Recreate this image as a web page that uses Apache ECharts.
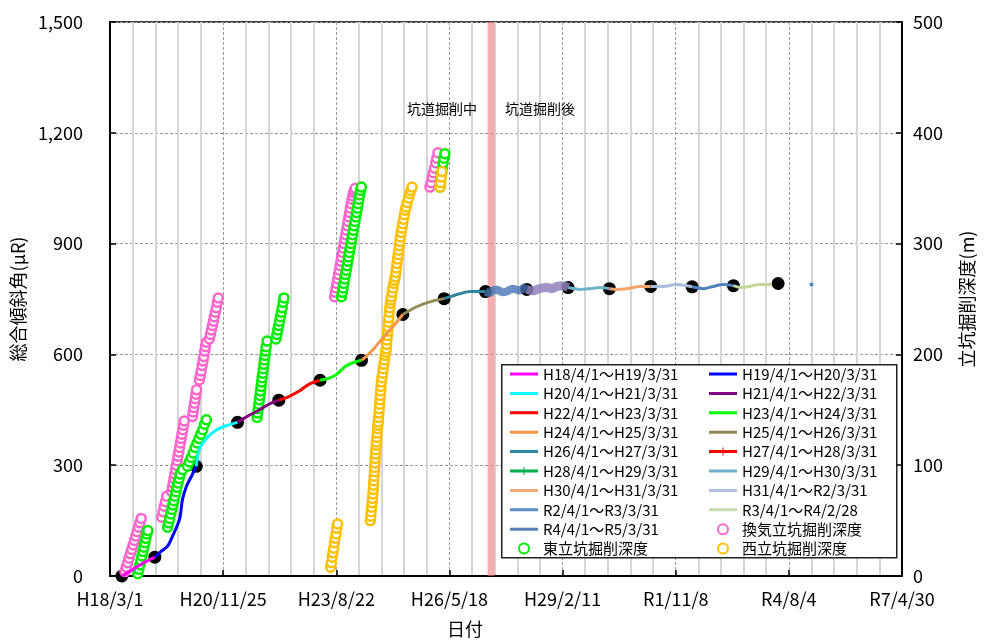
<!DOCTYPE html>
<html><head><meta charset="utf-8">
<script src="https://cdn.jsdelivr.net/npm/echarts@6/dist/echarts.min.js"></script>
<style>html,body{margin:0;padding:0;background:#fff}#c{width:984px;height:643px}</style>
</head><body><div id="c"></div>
<script>
// ---------- data ----------
const xTickLabels = ['H18/3/1','H20/11/25','H23/8/22','H26/5/18','H29/2/11','R1/11/8','R4/8/4','R7/4/30'];
const axisStart = '2006-03-01';
const tunnelBand = ['2015-04-20','2015-06-21'];

const fyNames = ['H18/4/1～H19/3/31','H19/4/1～H20/3/31','H20/4/1～H21/3/31','H21/4/1～H22/3/31','H22/4/1～H23/3/31','H23/4/1～H24/3/31','H24/4/1～H25/3/31','H25/4/1～H26/3/31','H26/4/1～H27/3/31','H27/4/1～H28/3/31','H28/4/1～H29/3/31','H29/4/1～H30/3/31','H30/4/1～H31/3/31','H31/4/1～R2/3/31','R2/4/1～R3/3/31','R3/4/1～R4/2/28','R4/4/1～R5/3/31'];

const fyH18 = [['2006-06-14',0],['2006-09-01',14],['2006-12-01',32],['2007-04-01',51]];
const fyH19 = [['2007-04-01',51],['2007-06-01',68],['2007-07-23',81],['2007-09-05',108],['2007-11-06',154],['2007-12-02',208],['2008-01-06',243],['2008-02-19',270],['2008-04-01',297]];
const fyH20 = [['2008-04-01',297],['2008-04-29',343],['2008-06-30',372],['2008-09-26',395],['2008-12-23',407],['2009-04-01',416]];
const fyH21 = [['2009-04-01',416],['2009-06-25',432],['2009-09-21',446],['2010-01-04',465],['2010-04-01',476]];
const fyH22 = [['2010-04-01',476],['2010-06-29',486],['2010-09-25',500],['2010-12-22',519],['2011-04-01',530]];
const fyH23 = [['2011-04-01',530],['2011-06-15',535],['2011-08-25',546],['2011-11-12',568],['2012-01-21',578],['2012-04-01',584]];
const fyH24 = [['2012-04-01',584],['2012-05-14',595],['2012-07-15',614],['2012-10-10',646],['2013-01-06',676],['2013-04-01',708]];
const fyH25 = [['2013-04-01',708],['2013-07-18',727],['2013-11-10',741],['2014-04-01',751]];
const fyH26 = [['2014-04-01',751],['2014-05-31',757],['2014-08-26',765],['2014-11-22',770],['2015-04-01',770]];
const fyH27 = [['2015-04-01',770],['2015-05-10',766],['2015-06-03',773],['2015-07-15',775],['2015-08-30',768],['2015-10-10',771],['2015-11-26',778],['2016-01-27',773],['2016-03-01',779],['2016-04-01',776]];
const fyH28 = [['2016-04-01',776],['2016-05-20',772],['2016-07-03',776],['2016-08-15',780],['2016-09-29',781],['2016-11-10',778],['2016-12-25',784],['2017-02-10',786],['2017-04-01',781]];
const fyH29 = [['2017-04-01',781],['2017-07-15',776],['2017-10-11',778],['2018-01-07',781],['2018-04-01',778]];
const fyH30 = [['2018-04-01',778],['2018-06-05',776],['2018-09-01',778],['2018-12-24',784],['2019-04-01',784]];
const fyH31 = [['2019-04-01',784],['2019-07-23',784],['2019-11-13',789],['2020-04-01',783]];
const fyR2 = [['2020-04-01',783],['2020-07-08',778],['2020-10-04',784],['2020-12-30',789],['2021-04-01',786]];
const fyR3 = [['2021-04-01',786],['2021-06-07',781],['2021-08-17',784],['2021-11-11',789],['2022-02-28',789]];
const fyR4 = [['2023-02-20',789]];

const yearPoints = [['2006-06-14',0],['2007-04-01',51],['2008-04-01',297],['2009-04-01',416],['2010-04-01',476],['2011-04-01',530],['2012-04-01',584],['2013-04-01',708],['2014-04-01',751],['2015-04-01',770],['2016-04-01',776],['2017-04-01',781],['2018-04-01',778],['2019-04-01',784],['2020-04-01',783],['2021-04-01',786],['2022-05-01',792]];

const ventShaft = [['2006-07-11',4],['2006-07-23',8],['2006-08-04',12],['2006-08-16',16],['2006-08-28',20],['2006-09-09',24],['2006-09-21',28],['2006-10-03',32],['2006-10-15',36],['2006-10-27',40],['2006-11-08',44],['2006-11-20',48],['2006-12-02',52],
['2007-06-01',53],['2007-06-12',58],['2007-06-23',63],['2007-07-04',67],['2007-07-15',72],
['2007-08-28',76],['2007-09-04',80],['2007-09-11',84],['2007-09-18',88],['2007-09-25',92],['2007-10-02',96],['2007-10-09',100],['2007-10-16',104],['2007-10-23',108],['2007-10-30',112],['2007-11-06',116],['2007-11-13',120],['2007-11-20',124],['2007-11-27',128],['2007-12-04',132],['2007-12-11',136],['2007-12-18',140],
['2008-02-28',144],['2008-03-05',148],['2008-03-11',152],['2008-03-17',156],['2008-03-23',160],['2008-03-29',164],['2008-04-04',168],
['2008-04-29',177],['2008-05-07',181],['2008-05-15',185],['2008-05-23',190],['2008-05-31',194],['2008-06-07',198],['2008-06-15',203],['2008-06-22',207],['2008-06-30',211],
['2008-07-26',214],['2008-08-04',218],['2008-08-13',222],['2008-08-22',226],['2008-08-31',230],['2008-09-08',234],['2008-09-17',238],['2008-09-26',242],['2008-10-05',247],['2008-10-13',251],
['2011-08-07',252],['2011-08-14',256],['2011-08-21',260],['2011-08-28',264],['2011-09-04',268],['2011-09-11',272],['2011-09-18',276],['2011-09-25',280],['2011-10-02',284],['2011-10-09',288],['2011-10-16',292],['2011-10-23',296],['2011-10-30',300],['2011-11-06',304],['2011-11-13',308],['2011-11-20',312],['2011-11-27',316],['2011-12-04',320],['2011-12-11',324],['2011-12-18',328],['2011-12-25',332],['2012-01-01',336],['2012-01-08',340],['2012-01-15',343],['2012-01-22',346],['2012-01-29',348],['2012-02-05',350],
['2013-11-27',351],['2013-12-07',355],['2013-12-17',360],['2013-12-27',364],['2014-01-06',368],['2014-01-16',373],['2014-01-26',377],['2014-02-05',382]];

const eastShaft = [['2006-11-02',2],['2006-11-11',6],['2006-11-20',10],['2006-11-29',14],['2006-12-08',18],['2006-12-17',22],['2006-12-26',26],['2007-01-03',30],['2007-01-12',34],['2007-01-21',38],['2007-01-29',41],
['2007-07-23',44],['2007-08-01',48],['2007-08-10',52],['2007-08-20',56],['2007-08-29',60],['2007-09-07',64],['2007-09-16',68],['2007-09-26',72],['2007-10-05',76],['2007-10-14',80],['2007-10-23',84],['2007-11-02',88],['2007-11-11',92],['2007-12-02',96],
['2008-01-15',99],['2008-02-01',103],['2008-02-17',107],['2008-03-05',111],['2008-03-22',116],['2008-04-08',120],['2008-04-25',124],['2008-05-12',128],['2008-05-29',132],['2008-06-14',137],['2008-06-30',141],
['2009-09-21',143],['2009-09-26',147],['2009-10-01',151],['2009-10-06',155],['2009-10-11',159],['2009-10-16',163],['2009-10-21',167],['2009-10-26',171],['2009-10-31',175],['2009-11-05',179],['2009-11-10',183],['2009-11-15',187],['2009-11-20',191],['2009-11-25',195],['2009-11-30',199],['2009-12-05',203],['2009-12-10',207],['2009-12-18',212],
['2010-03-07',214],['2010-03-15',218],['2010-03-23',222],['2010-03-31',226],['2010-04-08',230],['2010-04-15',234],['2010-04-23',238],['2010-05-01',242],['2010-05-09',247],['2010-05-16',251],
['2011-10-07',252],['2011-10-14',256],['2011-10-21',260],['2011-10-28',264],['2011-11-04',268],['2011-11-11',272],['2011-11-18',276],['2011-11-25',280],['2011-12-02',284],['2011-12-09',288],['2011-12-16',292],['2011-12-23',296],['2011-12-30',300],['2012-01-06',304],['2012-01-13',308],['2012-01-20',312],['2012-01-27',316],['2012-02-03',320],['2012-02-10',324],['2012-02-17',328],['2012-02-24',332],['2012-03-02',336],['2012-03-09',340],['2012-03-16',344],['2012-03-23',348],['2012-03-31',351],
['2014-02-23',351],['2014-02-28',355],['2014-03-05',360],['2014-03-11',364],['2014-03-17',368],['2014-03-23',373],['2014-03-30',377],['2014-04-08',381]];

const westShaft = [['2011-07-03',8],['2011-07-10',12],['2011-07-16',17],['2011-07-23',21],['2011-07-30',25],['2011-08-06',30],['2011-08-13',34],['2011-08-20',38],['2011-08-26',43],['2011-09-02',47],
['2012-06-18',50],['2012-06-22',54],['2012-06-25',58],['2012-06-29',62],['2012-07-03',66],['2012-07-07',70],['2012-07-10',74],['2012-07-14',78],['2012-07-16',82],['2012-07-19',86],['2012-07-21',90],['2012-07-24',94],['2012-07-26',98],['2012-07-29',102],['2012-07-31',106],['2012-08-03',110],['2012-08-05',114],['2012-08-08',118],['2012-08-10',121],['2012-08-14',125],['2012-08-18',129],['2012-08-21',133],['2012-08-24',136],['2012-08-27',139],['2012-08-30',143],['2012-09-02',147],['2012-09-05',151],['2012-09-08',155],['2012-09-11',159],['2012-09-14',163],['2012-09-17',167],['2012-09-20',171],['2012-09-23',175],['2012-09-29',179],['2012-10-04',183],['2012-10-10',187],['2012-10-15',191],['2012-10-21',195],['2012-10-26',199],['2012-11-01',202],['2012-11-06',205],['2012-11-09',209],['2012-11-12',213],['2012-11-16',217],['2012-11-19',221],['2012-11-22',225],['2012-11-25',229],['2012-11-28',233],['2012-12-02',238],['2012-12-07',242],['2012-12-12',246],['2012-12-16',249],['2012-12-20',252],['2012-12-28',256],['2013-01-04',260],['2013-01-11',264],['2013-01-18',267],['2013-01-24',270],['2013-01-29',274],['2013-02-03',278],['2013-02-08',282],['2013-02-13',286],['2013-02-19',290],['2013-02-24',294],['2013-03-01',298],['2013-03-06',302],['2013-03-11',306],['2013-03-17',310],['2013-03-24',314],['2013-03-31',318],['2013-04-08',322],['2013-04-15',326],['2013-04-22',330],['2013-04-30',333],['2013-05-10',337],['2013-05-21',341],['2013-06-01',345],['2013-06-11',348],['2013-06-22',351],
['2014-02-23',351],['2014-03-01',355],['2014-03-07',360],['2014-03-13',365]];

const shaftNames = ['換気立坑掘削深度','東立坑掘削深度','西立坑掘削深度'];

// ---------- styles ----------
const fyData = [fyH18,fyH19,fyH20,fyH21,fyH22,fyH23,fyH24,fyH25,fyH26,fyH27,fyH28,fyH29,fyH30,fyH31,fyR2,fyR3,fyR4];
const lineColors = ['#ff00ff','#0000ff','#00ffff','#800080','#ff0000','#00ff00','#f79646','#948a54','#31859c','rgba(70,115,180,0.8)','rgba(145,128,190,0.85)','#6fb3cb','#f6a46c','#aabcdc','#4f81bd','#c4d79b','#4f81bd'];
const lineWidths = [3,3,3,3,3,3,3,3,3,8,9,3,3,3,3,3,3];
const legendColors = ['#ff00ff','#0000ff','#00ffff','#800080','#ff0000','#00ff00','#f79646','#948a54','#31859c','#ff0000','#00b050','#6fb0c8','#f8a878','#b4c2e0','#5b8bc8','#c8dcb0','#5880b8'];
const shaftColors = ['#ff66cc','#00ee00','#ffc000'];

const base = Date.parse(axisStart);
const day = s => (Date.parse(s) - base) / 864e5;
const conv = arr => arr.map(p => [day(p[0]), p[1]]);

const FONT = '"Noto Sans CJK JP", "Noto Sans", sans-serif';
const lineIcon = 'path://M0,0L0.01,0L0,0.01Z M0,3.5h28v3h-28z M28,10L27.99,10L28,9.99Z';
const tickIcon = 'path://M0,0L0.01,0L0,0.01Z M0,3.5h28v3h-28z M13.5,1h1v8h-1z M28,10L27.99,10L28,9.99Z';

const series = [];
fyData.forEach((d, i) => {
  const s = {
    name: fyNames[i], type: 'line', yAxisIndex: 0, data: conv(d),
    smooth: 0.3, symbol: 'none', animation: false,
    itemStyle: { color: legendColors[i] },
    lineStyle: { color: lineColors[i], width: lineWidths[i] },
    emphasis: { disabled: true }
  };
  if (d.length === 1) { s.symbol = 'circle'; s.symbolSize = 4; s.showSymbol = true; s.itemStyle = { color: lineColors[i] }; }
  if (i === 0) {
    s.markArea = { silent: true, itemStyle: { color: 'rgba(245,120,120,0.6)' },
      data: [[{ xAxis: day(tunnelBand[0]) }, { xAxis: day(tunnelBand[1]) }]] };
  }
  series.push(s);
});
series.push({ name: '年度', type: 'scatter', yAxisIndex: 0, data: conv(yearPoints), symbol: 'circle', symbolSize: 13,
  itemStyle: { color: '#000', opacity: 1 }, emphasis: { disabled: true } });
[ventShaft, eastShaft, westShaft].forEach((d, i) => {
  series.push({ name: shaftNames[i], type: 'scatter', yAxisIndex: 1, data: conv(d), symbol: 'circle', symbolSize: 9,
    itemStyle: { color: '#fff', borderColor: shaftColors[i], borderWidth: 2.5, opacity: 1 }, emphasis: { disabled: true } });
});

const lineLegendItem = i => ({ name: fyNames[i], icon: (i === 9 || i === 10) ? tickIcon : lineIcon,
  itemStyle: { color: legendColors[i], borderWidth: 0, opacity: 1 } });
const shaftLegendItem = i => ({ name: shaftNames[i], icon: 'emptyCircle', itemStyle: { color: shaftColors[i], borderWidth: 0, opacity: 1 } });
const leftItems = [0,2,4,6,8,10,12,14,16].map(lineLegendItem).concat([shaftLegendItem(1)]);
const rightItems = [1,3,5,7,9,11,13,15].map(lineLegendItem).concat([shaftLegendItem(0), shaftLegendItem(2)]);
const legendCommon = { orient: 'vertical', top: 365, padding: 0, itemWidth: 28, itemHeight: 10, itemGap: 1.4,
  selectedMode: false, textStyle: { fontSize: 15, fontFamily: FONT, color: '#000', lineHeight: 18 } };

const chart = echarts.init(document.getElementById('c'), null, { renderer: 'canvas' });
chart.setOption({
  animation: false,
  backgroundColor: '#fff',
  grid: { left: 110, right: 77, top: 22, bottom: 66, show: true, borderColor: '#000', borderWidth: 1.5, backgroundColor: 'transparent' },
  xAxis: {
    type: 'value', min: 0, max: 7000, interval: 1000,
    name: '日付', nameLocation: 'middle', nameGap: 44,
    nameTextStyle: { fontSize: 18, fontFamily: FONT, color: '#000', padding: [0, 82, 0, 0] },
    axisLine: { lineStyle: { color: '#000', width: 2 } },
    axisTick: { inside: true, length: 6, lineStyle: { color: '#000', width: 1.5 } },
    axisLabel: { margin: 14, fontSize: 18, fontFamily: FONT, color: '#000', showMaxLabel: true, showMinLabel: true,
      formatter: v => xTickLabels[Math.round(v / 1000)] },
    splitLine: { show: true, lineStyle: { color: '#9a9a9a', type: [3, 2], width: 1 } },
    minorTick: { show: false, splitNumber: 5 },
    minorSplitLine: { show: true, lineStyle: { color: '#d6d6d6', width: 2 } }
  },
  yAxis: [{
    type: 'value', min: 0, max: 1500, interval: 300, position: 'left',
    name: '総合傾斜角(μR)', nameLocation: 'middle', nameGap: 78, nameRotate: 90,
    nameTextStyle: { fontSize: 18, fontFamily: FONT, color: '#000' },
    axisLine: { show: true, lineStyle: { color: '#000', width: 2 } },
    axisTick: { show: true, inside: true, length: 6, lineStyle: { color: '#000', width: 1.5 } },
    axisLabel: { margin: 27, fontSize: 18, fontFamily: FONT, color: '#000', formatter: v => v.toLocaleString('en-US') },
    splitLine: { show: true, lineStyle: { color: '#9a9a9a', type: [3, 2], width: 1 } }
  }, {
    type: 'value', min: 0, max: 500, interval: 100, position: 'right',
    name: '立坑掘削深度(m)', nameLocation: 'middle', nameGap: 56, nameRotate: 90,
    nameTextStyle: { fontSize: 18, fontFamily: FONT, color: '#000' },
    axisLine: { show: true, lineStyle: { color: '#000', width: 2 } },
    axisTick: { show: true, inside: true, length: 6, lineStyle: { color: '#000', width: 1.5 } },
    axisLabel: { margin: 11, fontSize: 18, fontFamily: FONT, color: '#000' },
    splitLine: { show: false }
  }],
  legend: [
    Object.assign({ left: 510, data: leftItems }, legendCommon),
    Object.assign({ left: 709, data: rightItems }, legendCommon)
  ],
  graphic: [
    { type: 'rect', left: 501, top: 364, z: 3, shape: { width: 395, height: 193 }, style: { fill: '#fff', stroke: '#222', lineWidth: 1.5 } },
    { type: 'text', left: 407, top: 102, z: 5, style: { text: '坑道掘削中', font: '14px ' + FONT, fill: '#000' } },
    { type: 'text', left: 505, top: 102, z: 5, style: { text: '坑道掘削後', font: '14px ' + FONT, fill: '#000' } }
  ],
  series: series
});
</script>
</body></html>
